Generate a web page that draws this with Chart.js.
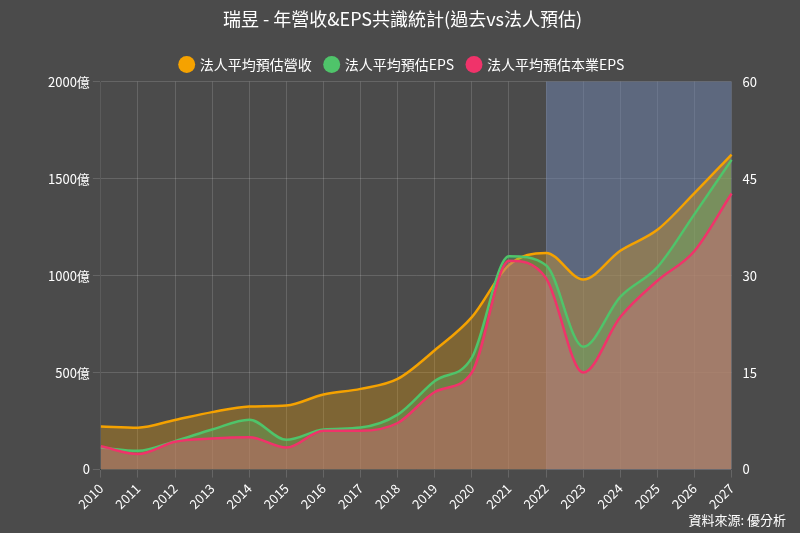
<!DOCTYPE html>
<html>
<head>
<meta charset="utf-8">
<script src="https://cdn.jsdelivr.net/npm/chart.js@4"></script>
<style>
  html, body { margin: 0; padding: 0; background: #4b4b4b; }
  #wrap { position: relative; width: 800px; height: 533px; }
  #credit { position: absolute; right: 14px; bottom: 4px; color: #fff; font: 13px "Noto Sans CJK TC", sans-serif; }
</style>
</head>
<body>
<div id="wrap">
  <canvas id="chart" width="800" height="533"></canvas>
  <div id="credit">資料來源: 優分析</div>
</div>
<script>
// years shown on the x axis
const years = ['2010','2011','2012','2013','2014','2015','2016','2017','2018',
               '2019','2020','2021','2022','2023','2024','2025','2026','2027'];

// revenue in 億 (left axis)
const revenue = [222, 216, 256, 296, 325, 330, 387, 416, 467, 615, 786, 1054, 1117, 980, 1128, 1236, 1425, 1624];
// EPS (right axis)
const eps = [3.4, 2.9, 4.4, 6.2, 7.7, 4.6, 6.2, 6.5, 8.5, 13.7, 17.3, 33.0, 31.6, 19.0, 26.7, 31.3, 39.5, 47.9];
const coreEps = [3.6, 2.4, 4.3, 4.8, 5.0, 3.4, 6.0, 6.0, 7.2, 12.0, 15.0, 32.3, 29.6, 15.0, 23.6, 29.2, 33.8, 42.7];

// forecast region
const forecastFrom = '2022';
const forecastTo = '2027';

const font = '"Noto Sans CJK TC", "Noto Sans", sans-serif';

const forecastBox = {
    id: 'forecastBox',
    beforeDatasetsDraw(chart) {
        const { ctx, chartArea, scales } = chart;
        const x0 = scales.x.getPixelForValue(years.indexOf(forecastFrom));
        const x1 = scales.x.getPixelForValue(years.indexOf(forecastTo));
        ctx.save();
        ctx.fillStyle = 'rgba(110,130,170,0.55)';
        ctx.fillRect(x0, chartArea.top, x1 - x0, chartArea.bottom - chartArea.top);
        ctx.restore();
    }
};

new Chart(document.getElementById('chart'), {
    type: 'line',
    data: {
        labels: years,
        datasets: [
            {
                label: '法人平均預估營收', data: revenue, yAxisID: 'y', order: 3,
                borderColor: '#f5a200', backgroundColor: 'rgba(245,162,0,0.3)',
                fill: 'origin', borderWidth: 2.5, pointRadius: 0, cubicInterpolationMode: 'monotone'
            },
            {
                label: '法人平均預估EPS', data: eps, yAxisID: 'y1', order: 2,
                borderColor: '#4fc46a', backgroundColor: 'rgba(79,196,106,0.3)',
                fill: 'origin', borderWidth: 2.5, pointRadius: 0, cubicInterpolationMode: 'monotone'
            },
            {
                label: '法人平均預估本業EPS', data: coreEps, yAxisID: 'y1', order: 1,
                borderColor: '#f0336a', backgroundColor: 'rgba(240,90,130,0.35)',
                fill: 'origin', borderWidth: 2.5, pointRadius: 0, cubicInterpolationMode: 'monotone'
            }
        ]
    },
    options: {
        responsive: false,
        animation: false,
        layout: { padding: { left: 45, right: 40, bottom: 18 } },
        plugins: {
            title: {
                display: true, text: '瑞昱 - 年營收&EPS共識統計(過去vs法人預估)',
                color: '#ffffff', font: { family: font, size: 18, weight: 'normal' },
                padding: { top: 8, bottom: 14 }
            },
            legend: {
                labels: {
                    color: '#ffffff', usePointStyle: true, pointStyle: 'circle',
                    boxWidth: 12, boxHeight: 12, padding: 14,
                    font: { family: font, size: 14 },
                    generateLabels(chart) {
                        return chart.data.datasets.map((ds, i) => ({
                            text: ds.label, fillStyle: ds.borderColor, strokeStyle: ds.borderColor,
                            fontColor: '#ffffff', pointStyle: 'circle', datasetIndex: i, lineWidth: 0
                        }));
                    }
                }
            },
            tooltip: { enabled: false }
        },
        scales: {
            x: {
                offset: false,
                grid: { color: 'rgba(255,255,255,0.15)' },
                ticks: { color: '#ffffff', maxRotation: 45, minRotation: 45, font: { family: font, size: 13 } }
            },
            y: {
                position: 'left', min: 0, max: 2000,
                grid: { color: 'rgba(255,255,255,0.15)' },
                ticks: { stepSize: 500, color: '#ffffff', font: { family: font, size: 13 },
                         callback: v => v === 0 ? '0' : v + '億' }
            },
            y1: {
                position: 'right', min: 0, max: 60,
                grid: { display: false },
                ticks: { stepSize: 15, color: '#ffffff', font: { family: font, size: 13 } }
            }
        }
    },
    plugins: [forecastBox]
});
</script>
</body>
</html>
